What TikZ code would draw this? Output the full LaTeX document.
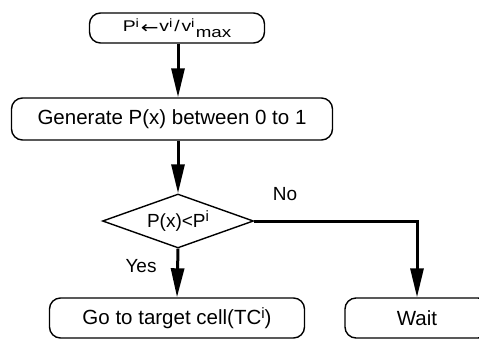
\documentclass[tikz,border=0pt]{standalone}
\usepackage{fontspec}
\usepackage{graphicx}
\setmainfont{Liberation Sans}
\newfontfamily\arrowfont{DejaVu Sans}
\usetikzlibrary{shapes.geometric,arrows.meta}
% raised index i, size given in pt
\newcommand{\supi}[1][12]{\raisebox{0.3em}{\fontsize{#1}{#1}\selectfont i}}
\begin{document}
\begin{tikzpicture}[x=1pt,y=-1pt,font=\fontsize{20.5}{24}\selectfont]
        \tikzstyle{block}=[draw=black,line width=1.4pt,rounded corners=11pt,inner sep=0pt]
        \tikzstyle{test}=[diamond,draw=black,line width=1.4pt,inner sep=0pt,aspect=2.8]
        \tikzstyle{flow}=[draw,line width=3pt,-{Triangle[length=29pt,width=13pt]}]
        \useasboundingbox (0,0) rectangle (479,338);
         \node [block,minimum width=175pt,minimum height=30pt] (init) at (177,28)
            {\scalebox{1.25}[1]{\fontsize{15.5}{18}\selectfont P\supi\hspace{1.5pt}\raisebox{-1.5pt}{\arrowfont\fontsize{17}{17}\selectfont ←}\hspace{0.5pt}v\supi\hspace{1.5pt}/\hspace{1.5pt}v\supi\hspace{1pt}\raisebox{-5.5pt}{\fontsize{15}{15}\selectfont max}}};
         \node [block,minimum width=321pt,minimum height=42pt] (gen) at (172,119) {Generate P(x) between 0 to 1};
         \node [test,minimum width=151pt,minimum height=54pt] (cmp) at (178,221) {\fontsize{19}{22}\selectfont P(x)<P\supi[15]};
         \node [block,minimum width=255pt,minimum height=40pt] (go) at (177,318) {Go to target cell(TC\supi[15])};
         \node [block,minimum width=144pt,minimum height=40pt] (wait) at (417,318) {Wait};
         \node (yes) at (141,266) {\fontsize{19}{22}\selectfont Yes};
         \node (no) at (285,194) {\fontsize{19}{22}\selectfont No};
         \path[flow] (init.south -| cmp) -- (gen.north -| cmp);
         \path[flow] (gen.south -| cmp) -- (cmp.north);
         \path[flow] (cmp.south) -- (go.north);
         \path[flow] (cmp.east) -| (wait.north);
      \end{tikzpicture}
\end{document}
